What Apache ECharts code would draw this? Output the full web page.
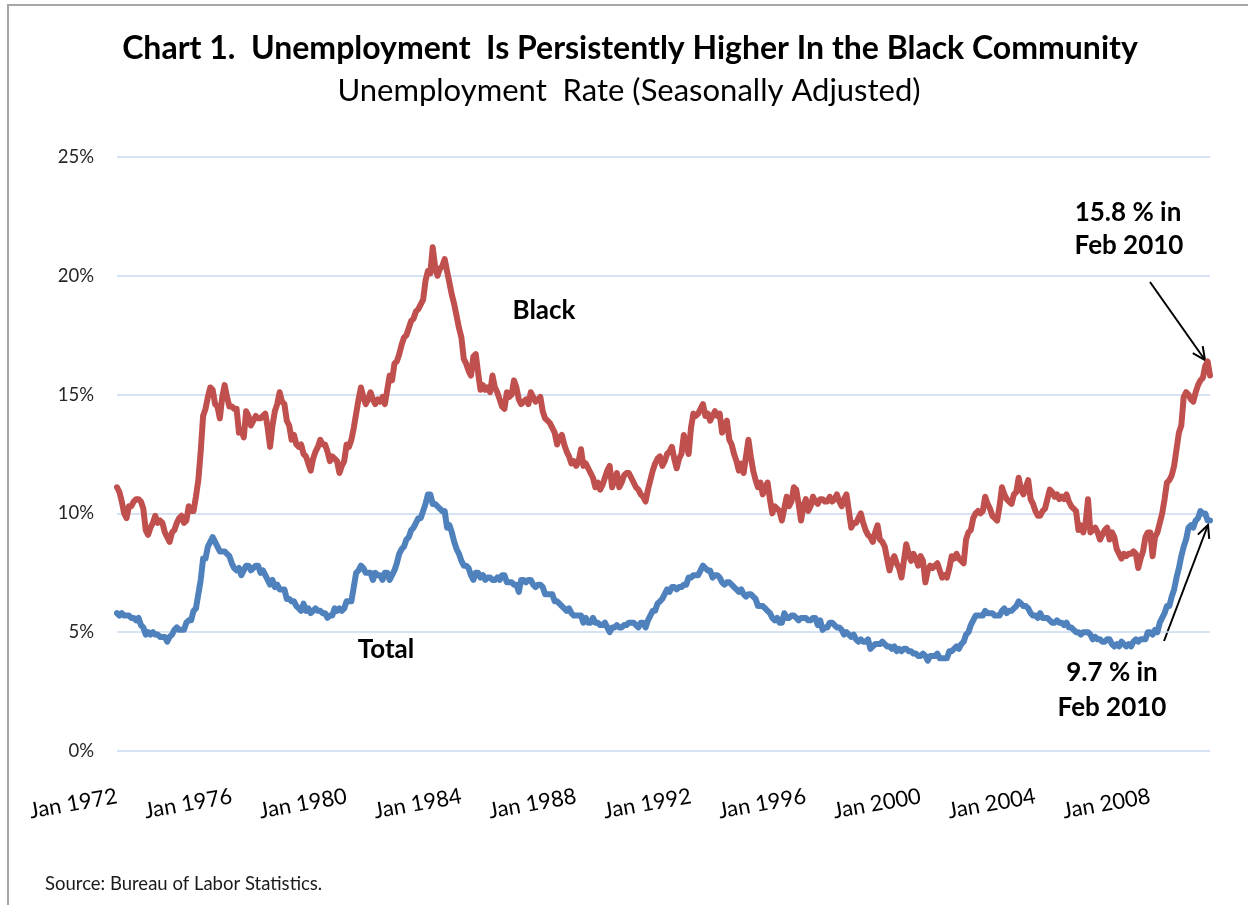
<!DOCTYPE html>
<html>
<head>
<meta charset="utf-8">
<script src="https://cdn.jsdelivr.net/npm/echarts/dist/echarts.min.js"></script>
<style>
html,body{margin:0;padding:0;background:#fff;}
#chart{width:1248px;height:905px;}
</style>
</head>
<body>
<div id="chart"></div>
<script>
// ---- Data, monthly, Jan 1972 – Feb 2010 ----
var startYear = 1972;
var monthNames = ['Jan','Feb','Mar','Apr','May','Jun','Jul','Aug','Sep','Oct','Nov','Dec'];
var yTicks = [0, 5, 10, 15, 20, 25];

var blackRate = [
  11.1,10.9,10.5,10.0,9.8,10.3,10.3,10.5,10.6,10.6,10.5,10.2,   // 1972
  9.3,9.1,9.4,9.6,9.9,9.6,9.7,9.6,9.2,9.0,8.8,9.2,              // 1973
  9.3,9.6,9.8,9.9,9.6,9.7,10.3,10.1,10.1,10.7,11.4,12.6,        // 1974
  14.1,14.4,14.9,15.3,15.2,14.6,14.5,14.0,14.9,15.4,14.9,14.5,  // 1975
  14.5,14.4,14.4,13.4,13.5,13.2,14.3,14.1,13.7,13.9,14.1,14.0,  // 1976
  14.0,14.1,14.2,13.6,12.8,13.7,14.3,14.6,15.1,14.7,14.6,13.9,  // 1977
  13.7,13.1,13.3,12.9,12.8,12.9,12.5,12.4,12.1,11.8,12.3,12.6,  // 1978
  12.8,13.1,12.9,12.9,12.6,12.2,12.4,12.3,12.2,11.7,12.0,12.2,  // 1979
  12.9,12.8,13.1,13.6,14.2,14.8,15.3,14.9,14.6,14.8,15.1,14.8,  // 1980
  14.6,14.8,14.7,14.9,14.6,15.2,15.8,15.6,16.3,16.4,16.7,17.1,  // 1981
  17.4,17.5,17.8,18.1,18.2,18.5,18.6,18.8,19.0,19.8,20.2,20.1,  // 1982
  21.2,20.4,20.0,20.3,20.4,20.7,20.2,19.7,19.2,18.8,18.3,17.8,  // 1983
  17.4,16.5,16.3,16.0,15.8,16.6,16.7,15.9,15.2,15.4,15.2,15.3,  // 1984
  15.1,15.8,15.3,15.1,14.8,14.5,14.4,15.1,14.9,15.0,15.6,15.3,  // 1985
  14.8,14.6,14.7,14.8,14.6,15.1,14.9,14.7,14.8,14.9,14.3,14.0,  // 1986
  13.9,13.8,13.6,13.4,12.9,13.2,13.3,12.9,12.6,12.4,12.1,12.2,  // 1987
  12.0,12.2,12.7,12.0,12.1,11.9,11.7,11.5,11.1,11.3,11.0,11.2,  // 1988
  11.5,11.8,12.0,11.1,11.4,11.7,11.1,11.3,11.6,11.7,11.7,11.5,  // 1989
  11.3,11.1,11.0,10.8,10.7,10.5,11.0,11.4,11.8,12.1,12.3,12.4,  // 1990
  12.0,12.2,12.5,12.6,12.8,12.3,11.9,12.3,12.5,13.3,12.9,12.5,  // 1991
  13.6,14.2,14.1,14.2,14.4,14.6,14.1,14.2,13.9,14.1,14.3,14.1,  // 1992
  14.2,13.4,13.7,13.9,13.1,12.9,12.5,12.2,11.8,12.1,11.7,12.4,  // 1993
  13.1,12.4,11.8,11.4,11.1,11.3,10.8,11.1,11.3,10.6,10.0,10.3,  // 1994
  10.2,10.1,9.7,10.2,10.7,10.3,10.5,11.1,11.0,10.4,9.7,10.3,    // 1995
  10.6,10.1,10.3,10.7,10.5,10.4,10.6,10.6,10.5,10.5,10.7,10.5,  // 1996
  10.6,10.8,10.5,10.3,10.6,10.8,10.1,9.4,9.6,9.6,9.8,10.0,      // 1997
  9.6,9.3,9.1,9.0,8.8,9.2,9.5,8.9,8.8,8.6,8.1,7.6,              // 1998
  8.0,8.2,7.9,7.7,7.3,8.0,8.7,8.3,8.0,8.3,8.1,7.8,              // 1999
  8.2,8.0,7.1,7.6,7.8,7.7,7.8,7.9,7.6,7.3,7.4,7.3,              // 2000
  7.7,8.2,8.1,8.3,8.1,8.0,7.9,8.9,9.2,9.3,9.8,10.0,             // 2001
  10.1,10.0,10.1,10.7,10.4,10.2,9.9,9.8,9.7,10.3,11.1,10.8,     // 2002
  10.6,10.5,10.4,10.8,10.9,11.5,11.0,10.8,11.1,11.4,10.6,10.4,  // 2003
  10.1,9.9,9.9,10.1,10.2,10.6,11.0,10.9,10.7,10.8,10.6,10.7,    // 2004
  10.6,10.8,10.5,10.3,10.2,10.1,9.3,9.5,9.2,9.6,10.6,9.2,       // 2005
  9.3,9.4,9.2,8.9,9.1,9.3,9.4,8.9,9.2,9.0,8.5,8.3,              // 2006
  8.1,8.3,8.2,8.3,8.3,8.4,8.3,7.7,8.1,8.4,9.0,9.2,              // 2007
  9.2,8.2,9.0,9.2,9.6,10.0,10.6,11.3,11.4,11.6,12.0,12.7,       // 2008
  13.4,13.7,14.9,15.1,15.0,14.8,14.7,15.1,15.4,15.6,15.7,16.2,  // 2009
  16.4,15.8                                                     // 2010
];

var totalRate = [
  5.8,5.7,5.8,5.7,5.7,5.7,5.6,5.6,5.5,5.6,5.3,5.2,   // 1972
  4.9,5.0,4.9,5.0,4.9,4.9,4.8,4.8,4.8,4.6,4.8,4.9,   // 1973
  5.1,5.2,5.1,5.1,5.1,5.4,5.5,5.5,5.9,6.0,6.6,7.2,   // 1974
  8.1,8.1,8.6,8.8,9.0,8.8,8.6,8.4,8.4,8.4,8.3,8.2,   // 1975
  7.9,7.7,7.6,7.7,7.4,7.6,7.8,7.8,7.6,7.7,7.8,7.8,   // 1976
  7.5,7.6,7.4,7.2,7.0,7.2,6.9,7.0,6.8,6.8,6.8,6.4,   // 1977
  6.4,6.3,6.3,6.1,6.0,5.9,6.2,5.9,6.0,5.8,5.9,6.0,   // 1978
  5.9,5.9,5.8,5.8,5.6,5.7,5.7,6.0,5.9,6.0,5.9,6.0,   // 1979
  6.3,6.3,6.3,6.9,7.5,7.6,7.8,7.7,7.5,7.5,7.5,7.2,   // 1980
  7.5,7.4,7.4,7.2,7.5,7.5,7.2,7.4,7.6,7.9,8.3,8.5,   // 1981
  8.6,8.9,9.0,9.3,9.4,9.6,9.8,9.8,10.1,10.4,10.8,10.8, // 1982
  10.4,10.4,10.3,10.2,10.1,10.1,9.4,9.5,9.2,8.8,8.5,8.3, // 1983
  8.0,7.8,7.8,7.7,7.4,7.2,7.5,7.5,7.3,7.4,7.2,7.3,   // 1984
  7.3,7.2,7.2,7.3,7.2,7.4,7.4,7.1,7.1,7.1,7.0,7.0,   // 1985
  6.7,7.2,7.2,7.1,7.2,7.2,7.0,6.9,7.0,7.0,6.9,6.6,   // 1986
  6.6,6.6,6.6,6.3,6.3,6.2,6.1,6.0,5.9,6.0,5.8,5.7,   // 1987
  5.7,5.7,5.7,5.4,5.6,5.4,5.4,5.6,5.4,5.4,5.3,5.3,   // 1988
  5.4,5.2,5.0,5.2,5.2,5.3,5.2,5.2,5.3,5.3,5.4,5.4,   // 1989
  5.4,5.3,5.2,5.4,5.4,5.2,5.5,5.7,5.9,5.9,6.2,6.3,   // 1990
  6.4,6.6,6.8,6.7,6.9,6.9,6.8,6.9,6.9,7.0,7.0,7.3,   // 1991
  7.3,7.4,7.4,7.4,7.6,7.8,7.7,7.6,7.6,7.3,7.4,7.4,   // 1992
  7.3,7.1,7.0,7.1,7.1,7.0,6.9,6.8,6.7,6.8,6.6,6.5,   // 1993
  6.6,6.6,6.5,6.4,6.1,6.1,6.1,6.0,5.9,5.8,5.6,5.5,   // 1994
  5.6,5.4,5.4,5.8,5.6,5.6,5.7,5.7,5.6,5.5,5.6,5.6,   // 1995
  5.6,5.5,5.5,5.6,5.6,5.3,5.5,5.1,5.2,5.2,5.4,5.4,   // 1996
  5.3,5.2,5.2,5.1,4.9,5.0,4.9,4.8,4.9,4.7,4.6,4.7,   // 1997
  4.6,4.6,4.7,4.3,4.4,4.5,4.5,4.5,4.6,4.5,4.4,4.4,   // 1998
  4.3,4.4,4.2,4.3,4.2,4.3,4.3,4.2,4.2,4.1,4.1,4.0,   // 1999
  4.0,4.1,4.0,3.8,4.0,4.0,4.0,4.1,3.9,3.9,3.9,3.9,   // 2000
  4.2,4.2,4.3,4.4,4.3,4.5,4.6,4.9,5.0,5.3,5.5,5.7,   // 2001
  5.7,5.7,5.7,5.9,5.8,5.8,5.8,5.7,5.7,5.7,5.9,6.0,   // 2002
  5.8,5.9,5.9,6.0,6.1,6.3,6.2,6.1,6.1,6.0,5.8,5.7,   // 2003
  5.7,5.6,5.8,5.6,5.6,5.6,5.5,5.4,5.4,5.5,5.4,5.4,   // 2004
  5.3,5.4,5.2,5.2,5.1,5.0,5.0,4.9,5.0,5.0,5.0,4.9,   // 2005
  4.7,4.8,4.7,4.7,4.6,4.6,4.7,4.7,4.5,4.4,4.5,4.4,   // 2006
  4.6,4.5,4.4,4.5,4.4,4.6,4.7,4.6,4.7,4.7,4.7,5.0,   // 2007
  5.0,4.9,5.1,5.0,5.4,5.6,5.8,6.1,6.1,6.5,6.8,7.3,   // 2008
  7.7,8.2,8.6,8.9,9.4,9.5,9.4,9.7,9.8,10.1,10.0,10.0, // 2009
  9.7,9.7                                            // 2010
];

var seriesNames = ['Black', 'Total'];
var titleText = 'Chart 1.  Unemployment  Is Persistently Higher In the Black Community';
var subtitleText = 'Unemployment  Rate (Seasonally Adjusted)';
var sourceText = 'Source: Bureau of Labor Statistics.';
var blackNote = ['15.8 % in', 'Feb 2010'];
var totalNote = ['9.7 % in', 'Feb 2010'];

// category labels built from the month/year lists
var categories = [];
for (var i = 0; i < blackRate.length; i++) {
  categories.push(monthNames[i % 12] + ' ' + (startYear + Math.floor(i / 12)));
}

var FONT = 'Lato, "Open Sans", sans-serif';
var RED = '#C0504D', BLUE = '#4F81BD';

var chart = echarts.init(document.getElementById('chart'), null, {renderer: 'canvas'});

function txt(x, y, text, size, weight, align, color) {
  return {
    type: 'text', x: x, y: y, silent: true,
    style: {text: text, fill: color || '#000', font: (weight || 'normal') + ' ' + size + 'px ' + FONT,
            textAlign: align || 'center', textVerticalAlign: 'middle'}
  };
}
function arrow(x1, y1, x2, y2) {
  var ang = Math.atan2(y2 - y1, x2 - x1), L = 14, a = 0.45;
  var p1 = [x2 - L * Math.cos(ang - a), y2 - L * Math.sin(ang - a)];
  var p2 = [x2 - L * Math.cos(ang + a), y2 - L * Math.sin(ang + a)];
  return [
    {type: 'line', silent: true, shape: {x1: x1, y1: y1, x2: x2, y2: y2}, style: {stroke: '#000', lineWidth: 2}},
    {type: 'polyline', silent: true, shape: {points: [p1, [x2, y2], p2]}, style: {stroke: '#000', lineWidth: 2, fill: null}}
  ];
}

var graphics = [
  {type: 'rect', silent: true, shape: {x: 8, y: 5, width: 1300, height: 1000},
   style: {stroke: '#a6a6a6', lineWidth: 2, fill: null}},
  txt(630, 49, titleText, 32, 'bold'),
  txt(629, 91, subtitleText, 31, 'normal'),
  txt(544, 311, seriesNames[0], 26, 'bold'),
  txt(386, 650, seriesNames[1], 26, 'bold'),
  txt(1128, 213, blackNote[0], 26, 'bold'),
  txt(1129, 246, blackNote[1], 26, 'bold'),
  txt(1112, 673, totalNote[0], 26, 'bold'),
  txt(1112, 708, totalNote[1], 26, 'bold'),
  txt(45, 884, sourceText, 18.5, 'normal', 'left', '#1a1a1a')
].concat(arrow(1150, 282, 1205, 360)).concat(arrow(1164, 641, 1208, 525));

chart.setOption({
  animation: false,
  backgroundColor: '#fff',
  grid: {left: 117, right: 38, top: 157, bottom: 154, containLabel: false},
  xAxis: {
    type: 'category', data: categories, boundaryGap: false,
    axisLine: {show: false}, axisTick: {show: false}, splitLine: {show: false},
    axisLabel: {interval: 47, rotate: 10, margin: 45, fontSize: 22, color: '#000', fontFamily: FONT}
  },
  yAxis: {
    type: 'value', min: yTicks[0], max: yTicks[yTicks.length - 1], interval: 5,
    axisLine: {show: false}, axisTick: {show: false},
    splitLine: {lineStyle: {color: '#c9daf0', width: 1.5}},
    axisLabel: {formatter: '{value}%', margin: 23, fontSize: 18.5, color: '#262626', fontFamily: FONT}
  },
  series: [
    {name: seriesNames[0], type: 'line', data: blackRate, showSymbol: false, symbol: 'none',
     lineStyle: {color: RED, width: 6, cap: 'round', join: 'round'}, z: 3},
    {name: seriesNames[1], type: 'line', data: totalRate, showSymbol: false, symbol: 'none',
     lineStyle: {color: BLUE, width: 6, cap: 'round', join: 'round'}, z: 3}
  ],
  graphic: graphics
});
</script>
</body>
</html>
